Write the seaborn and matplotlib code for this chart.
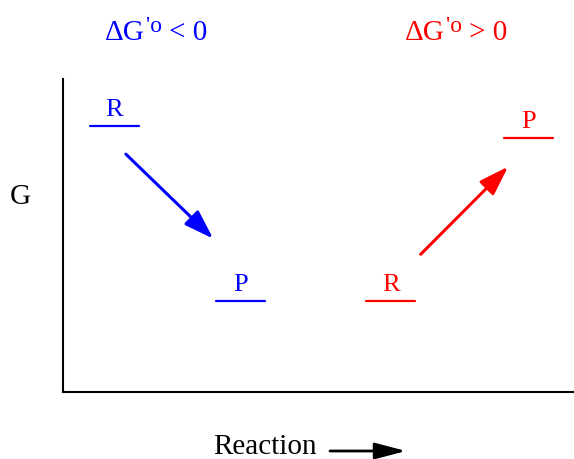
import pandas as pd
import matplotlib.pyplot as plt
import seaborn as sns

sns.set_style("white")
plt.rcParams["font.family"] = ["Liberation Serif", "DejaVu Serif"]
plt.rcParams["text.color"] = "black"

# Energy levels (reaction coordinate, free energy G)
level_names = ["R", "P", "R", "P"]
level_side = ["neg", "neg", "pos", "pos"]
level_x = [1.0, 3.48, 6.41, 9.11]
level_g = [8.5, 2.9, 2.9, 8.1]
level_halfwidth = 0.48

# Arrows between levels (start x, start G, end x, end G)
arrow_start_x = [1.23, 7.0]
arrow_start_g = [7.6, 4.4]
arrow_end_x = [2.94, 8.71]
arrow_end_g = [4.9, 7.2]

side_colors = {"neg": "#0000ff", "pos": "#ff0000"}
title_signs = {"neg": "< 0", "pos": "> 0"}
title_left_px = [105, 405]

rows = []
for i, (x, g, s) in enumerate(zip(level_x, level_g, level_side)):
    rows.append({"level": i, "side": s, "x": x - level_halfwidth, "G": g})
    rows.append({"level": i, "side": s, "x": x + level_halfwidth, "G": g})
df = pd.DataFrame(rows)

fig = plt.figure(figsize=(5.74, 4.6), dpi=100)
ax = fig.add_axes([63 / 574, 67 / 460, 511 / 574, 313 / 460])

sns.lineplot(data=df, x="x", y="G", units="level", hue="side", estimator=None,
             palette=side_colors, linewidth=1.6, legend=False, ax=ax)

for name, x, g, s in zip(level_names, level_x, level_g, level_side):
    ax.text(x, g + 0.2, name, color=side_colors[s], fontsize=19,
            ha="center", va="bottom")

for x0, g0, x1, g1, s in zip(arrow_start_x, arrow_start_g, arrow_end_x, arrow_end_g, ["neg", "pos"]):
    ax.annotate("", xy=(x1, g1), xytext=(x0, g0),
                arrowprops=dict(arrowstyle="-|>,head_length=1.8,head_width=0.6",
                                color=side_colors[s], lw=2.2, shrinkA=0, shrinkB=0))

ax.set_xlim(0, 10)
ax.set_ylim(0, 10)
ax.set_xticks([])
ax.set_yticks([])
ax.set_xlabel("")
ax.set_ylabel("")
for sp in ["top", "right"]:
    ax.spines[sp].set_visible(False)
for sp in ["left", "bottom"]:
    ax.spines[sp].set_color("black")
    ax.spines[sp].set_linewidth(1.5)

# titles built from pieces: "ΔG" + raised "'o" + "< 0"
renderer = fig.canvas.get_renderer()
for left, s in zip(title_left_px, ["neg", "pos"]):
    c = side_colors[s]
    t1 = fig.text(left / 574, 427 / 460, "ΔG", color=c, fontsize=21,
                  ha="left", va="center")
    w1 = t1.get_window_extent(renderer).width
    t2 = fig.text((left + w1 + 1) / 574, 434 / 460, "'o", color=c, fontsize=17,
                  ha="left", va="center")
    w2 = t2.get_window_extent(renderer).width
    fig.text((left + w1 + w2 + 8) / 574, 427 / 460, title_signs[s], color=c,
             fontsize=21, ha="left", va="center")

fig.text(20 / 574, 263 / 460, "G", fontsize=21, ha="center", va="center", color="black")
fig.text(265 / 574, 13 / 460, "Reaction", fontsize=21, ha="center", va="center",
         color="black")
ax.annotate("", xy=(406, 8), xytext=(330, 8), xycoords="figure pixels",
            textcoords="figure pixels",
            arrowprops=dict(arrowstyle="-|>,head_length=1.9,head_width=0.5",
                            color="black", lw=2, shrinkA=0, shrinkB=0))

fig.savefig("out.png", dpi=100)
